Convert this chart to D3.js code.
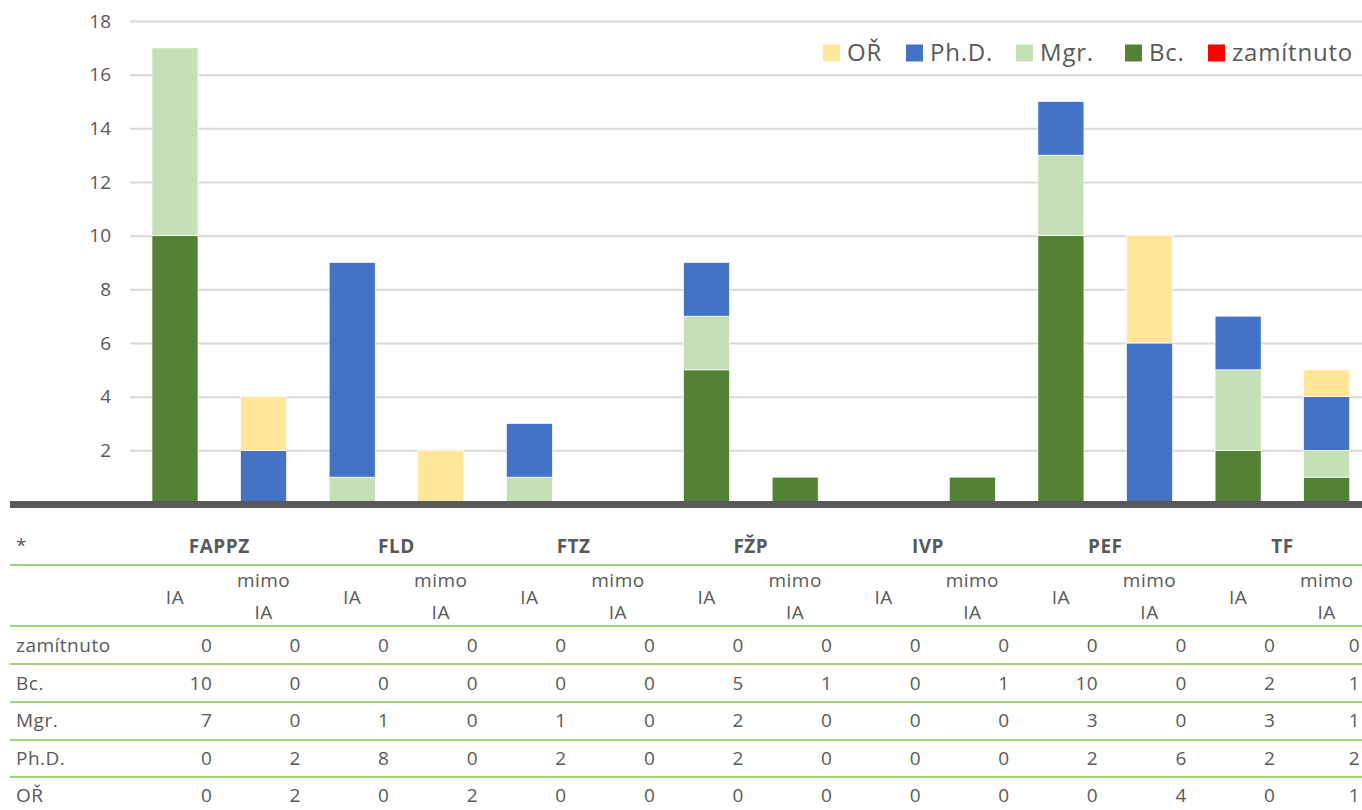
<!DOCTYPE html>
<html>
<head>
<meta charset="utf-8">
<script src="https://cdn.jsdelivr.net/npm/d3@7"></script>
<style>
  body { margin: 0; background: #fff; }
  text { font-family: "Open Sans", "Noto Sans", sans-serif; fill: #595959; }
</style>
</head>
<body>
<div id="chart"></div>
<script>
var w = 1362;
var h = 810;

// data
var faculties = ["FAPPZ", "FLD", "FTZ", "FŽP", "IVP", "PEF", "TF"];
var subCols = ["IA", "mimo IA"];
var series = ["zamítnuto", "Bc.", "Mgr.", "Ph.D.", "OŘ"];
var zamitnuto = [0, 0, 0, 0, 0, 0, 0, 0, 0, 0, 0, 0, 0, 0];
var bc = [10, 0, 0, 0, 0, 0, 5, 1, 0, 1, 10, 0, 2, 1];
var mgr = [7, 0, 1, 0, 1, 0, 2, 0, 0, 0, 3, 0, 3, 1];
var phd = [0, 2, 8, 0, 2, 0, 2, 0, 0, 0, 2, 6, 2, 2];
var orr = [0, 2, 0, 2, 0, 0, 0, 0, 0, 0, 0, 4, 0, 1];
var yTicks = [2, 4, 6, 8, 10, 12, 14, 16, 18];

var values = [zamitnuto, bc, mgr, phd, orr];
var colors = ["#FF0000", "#548235", "#C5E0B4", "#4472C4", "#FFE699"];
var legendOrder = ["OŘ", "Ph.D.", "Mgr.", "Bc.", "zamítnuto"];

var cols = [];
faculties.forEach(function (f) {
  subCols.forEach(function (s) { cols.push(f + "|" + s); });
});

var rows = cols.map(function (c, i) {
  var r = { key: c };
  series.forEach(function (s, j) { r[s] = values[j][i]; });
  return r;
});

var stacked = d3.stack().keys(series)(rows);

var x = d3.scaleBand()
  .domain(cols)
  .range([130.7, 1371])
  .paddingInner(0.48)
  .paddingOuter(0.24);

var y = d3.scaleLinear()
  .domain([0, 18])
  .range([504, 21]);

var color = d3.scaleOrdinal().domain(series).range(colors);

var svg = d3.select("#chart").append("svg")
  .attr("width", w)
  .attr("height", h);

// gridlines
var grid = svg.append("g")
  .attr("transform", "translate(130,0)")
  .call(d3.axisLeft(y).tickValues(yTicks).tickSize(-1240).tickFormat(""));
grid.select(".domain").remove();
grid.selectAll("line").attr("stroke", "#d9d9d9").attr("stroke-width", 2);

// y labels
var yAxis = svg.append("g")
  .attr("transform", "translate(111,0)")
  .call(d3.axisLeft(y).tickValues(yTicks).tickSize(0));
yAxis.select(".domain").remove();
yAxis.selectAll("text")
  .attr("x", 0)
  .style("font-family", "'Open Sans', sans-serif")
  .style("font-size", "19px")
  .style("fill", "#595959");

// bars
svg.append("g").selectAll("g")
  .data(stacked)
  .join("g")
  .attr("fill", function (d) { return color(d.key); })
  .selectAll("rect")
  .data(function (d) { return d; })
  .join("rect")
  .attr("x", function (d) { return x(d.data.key); })
  .attr("width", x.bandwidth())
  .attr("y", function (d) { return y(d[1]); })
  .attr("height", function (d) { return y(d[0]) - y(d[1]); })
  .attr("stroke", "#fff")
  .attr("stroke-width", 0.7);

// axis base line
svg.append("line")
  .attr("x1", 10).attr("x2", w)
  .attr("y1", y(0) + 0.5).attr("y2", y(0) + 0.5)
  .attr("stroke", "#595959")
  .attr("stroke-width", 7);

// legend
var legendX = [823, 906, 1016, 1125, 1208];
var legend = svg.append("g").selectAll("g")
  .data(legendOrder)
  .join("g")
  .attr("transform", function (d, i) { return "translate(" + legendX[i] + ",53)"; });
legend.append("rect")
  .attr("x", 0).attr("y", -8.5)
  .attr("width", 17).attr("height", 17)
  .attr("fill", function (d) { return color(d); });
legend.append("text")
  .attr("x", 24).attr("dy", "0.35em")
  .style("font-size", "24px")
  .style("letter-spacing", "0.8px")
  .text(function (d) { return d; });

// data table
var table = svg.append("g")
  .style("font-size", "19px")
  .style("letter-spacing", "0.5px");
var lineYs = [565, 626, 664, 702, 740, 777];
table.selectAll("line.sep")
  .data(lineYs)
  .join("line")
  .attr("class", "sep")
  .attr("x1", 10).attr("x2", w)
  .attr("y1", function (d) { return d; })
  .attr("y2", function (d) { return d; })
  .attr("stroke", "#7CC552")
  .attr("stroke-width", 1.5);

var step = x.step();
var colLeft = function (i) { return x(cols[i]) - x.paddingInner() * step / 2; };

table.append("text")
  .attr("x", 16).attr("y", 545).attr("dy", "0.35em")
  .text("*");

table.selectAll("text.fac")
  .data(faculties)
  .join("text")
  .attr("class", "fac")
  .attr("x", function (d, i) { return colLeft(i * 2) + step; })
  .attr("y", 546).attr("dy", "0.35em")
  .attr("text-anchor", "middle")
  .style("font-weight", "bold")
  .text(function (d) { return d; });

cols.forEach(function (c, i) {
  var cx = x(c) + x.bandwidth() / 2;
  var sub = c.split("|")[1];
  if (sub === "IA") {
    table.append("text")
      .attr("x", cx).attr("y", 597).attr("dy", "0.35em")
      .attr("text-anchor", "middle")
      .text("IA");
  } else {
    table.append("text")
      .attr("x", cx).attr("y", 580).attr("dy", "0.35em")
      .attr("text-anchor", "middle")
      .text("mimo");
    table.append("text")
      .attr("x", cx).attr("y", 612).attr("dy", "0.35em")
      .attr("text-anchor", "middle")
      .text("IA");
  }
});

var rowYs = [645, 683, 720, 758, 795];
series.forEach(function (s, j) {
  table.append("text")
    .attr("x", 16).attr("y", rowYs[j]).attr("dy", "0.35em")
    .text(s);
  table.append("g").selectAll("text")
    .data(values[j])
    .join("text")
    .attr("x", function (d, i) { return Math.min(colLeft(i) + step - 7, w - 2); })
    .attr("y", rowYs[j]).attr("dy", "0.35em")
    .attr("text-anchor", "end")
    .text(function (d) { return d; });
});
</script>
</body>
</html>
